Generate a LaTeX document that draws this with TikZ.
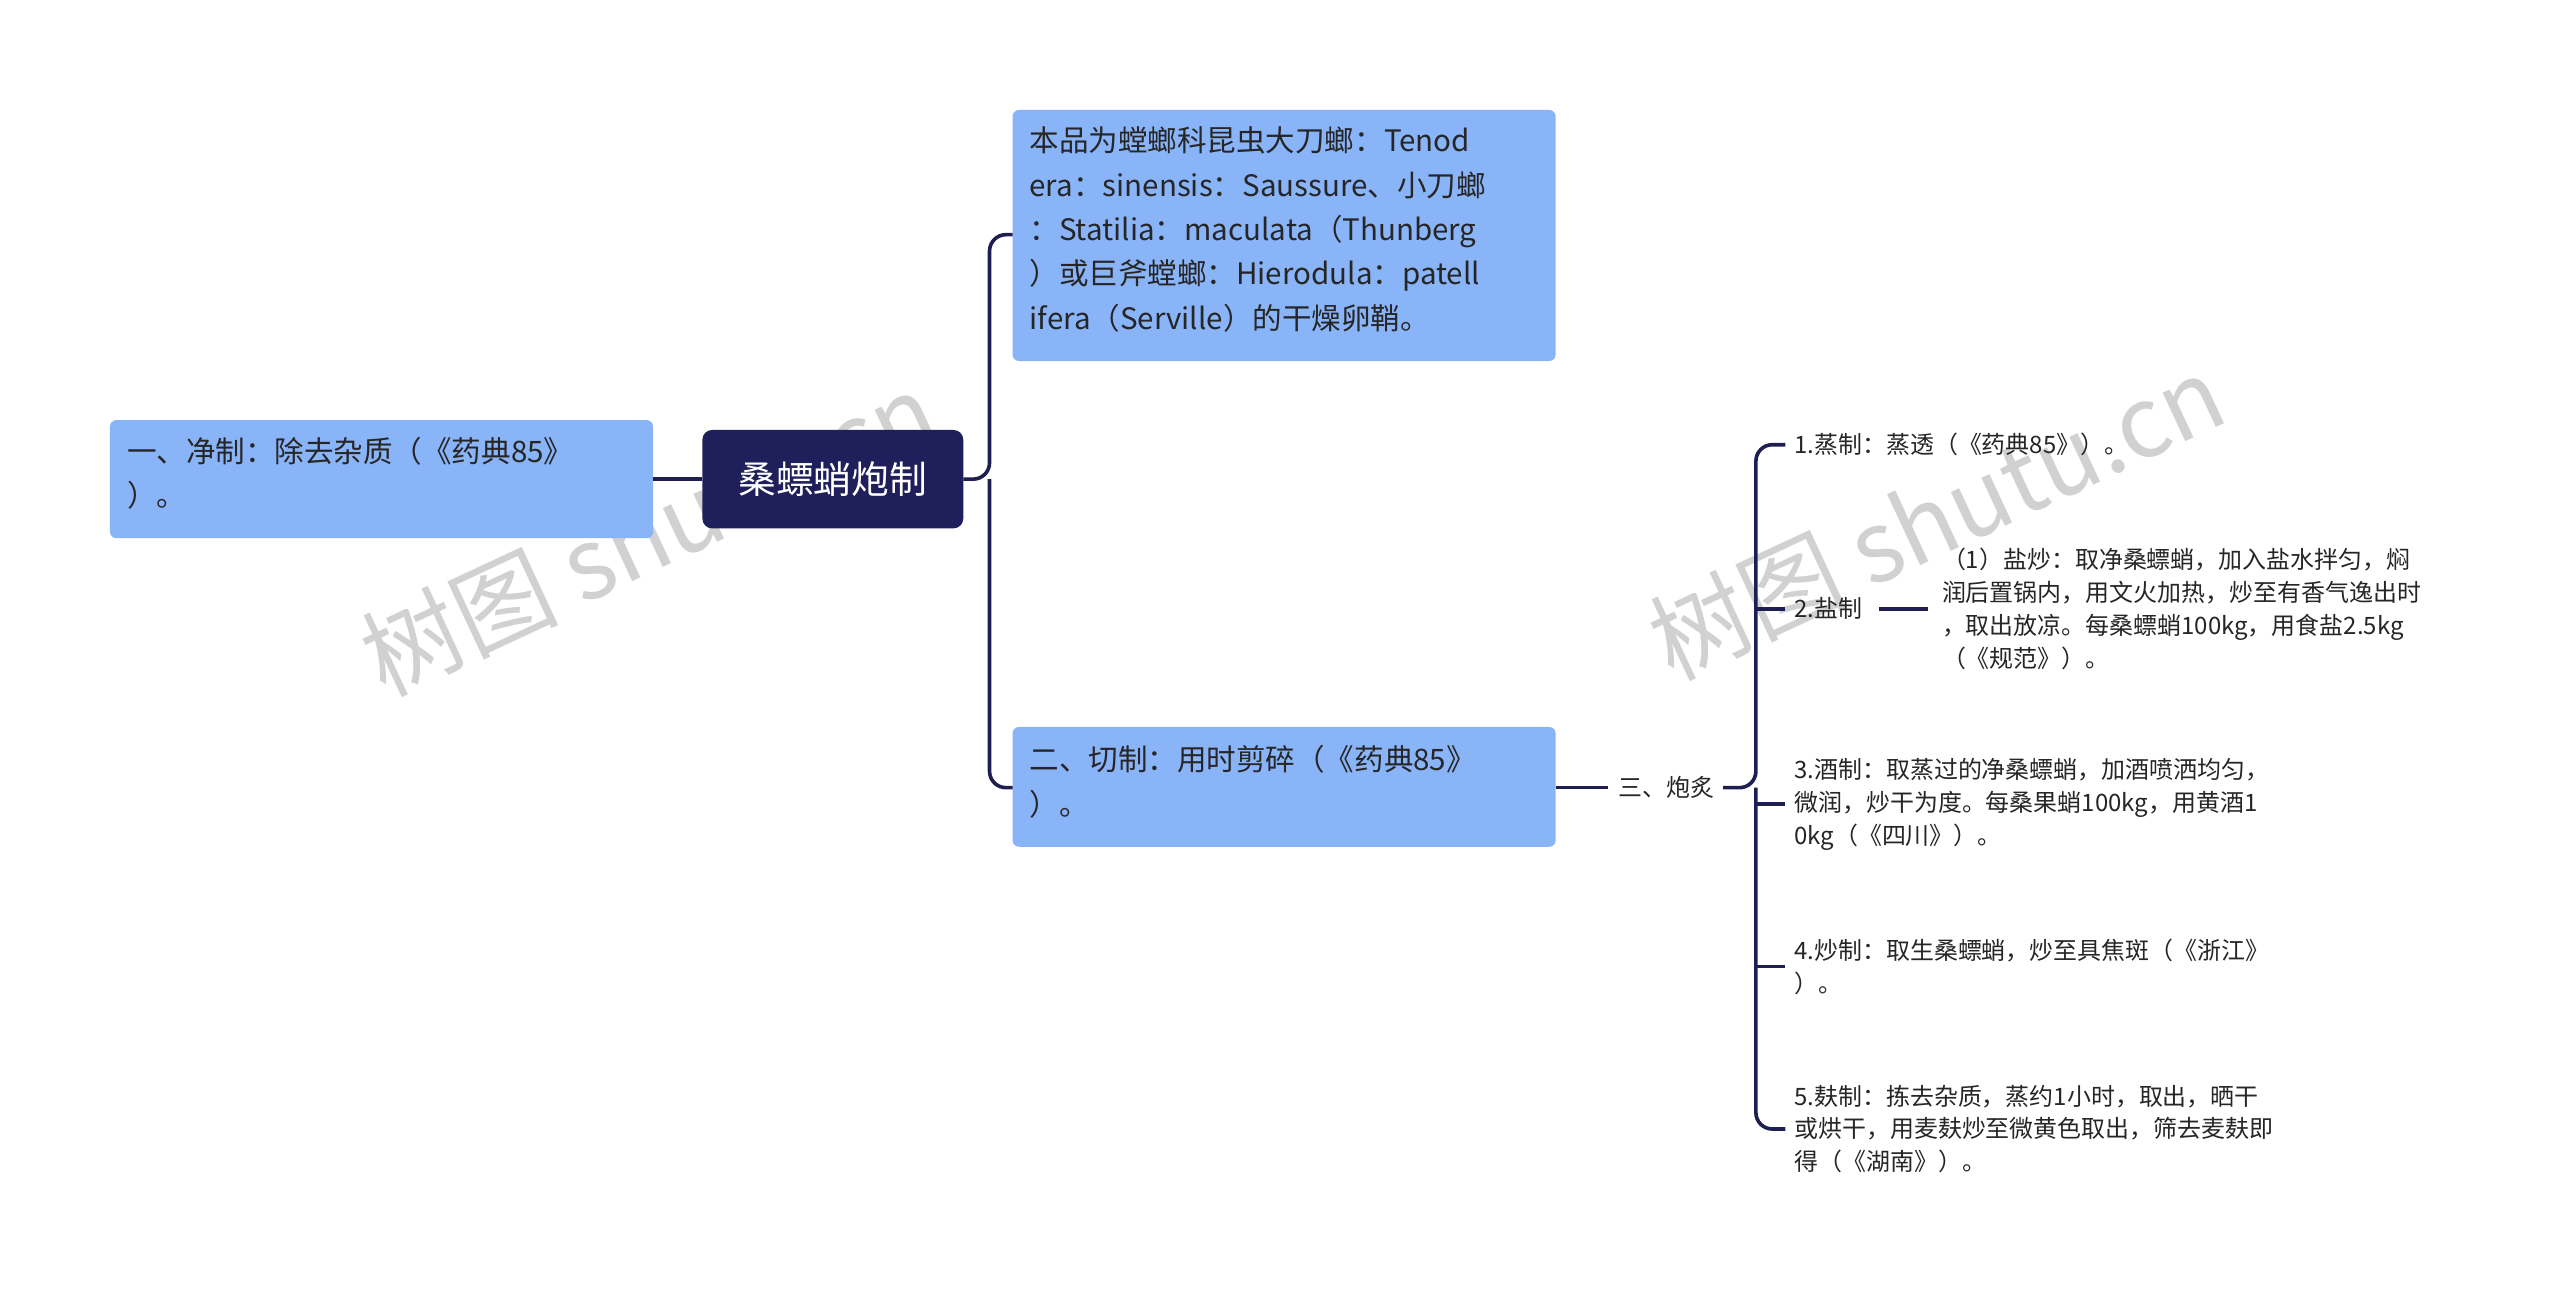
\documentclass[tikz,border=0pt]{standalone}
\usepackage{fontspec}
\setmainfont{Noto Sans CJK SC}
\begin{document}
\begin{tikzpicture}[x=0.5pt,y=-0.5pt,
 box/.style={fill=boxblue,rounded corners=2pt,inner sep=0pt},
 big/.style={font=\fontsize{9}{13.5}\selectfont,align=left,anchor=north west,inner sep=0pt,text=black!85},
 small/.style={font=\fontsize{7.3}{10}\selectfont,align=left,anchor=north west,inner sep=0pt,text=black!85},
 conn/.style={draw=linec,line width=1.1pt,rounded corners=5pt}]
\definecolor{boxblue}{HTML}{8AB4F8}
\definecolor{linec}{HTML}{1E1E50}
\definecolor{rootc}{HTML}{1F1F5C}
\useasboundingbox (0,0) rectangle (1560,790);
\fill[white] (0,0) rectangle (1560,790);
% watermarks
\node[rotate=25,text=black!18,font=\fontsize{30}{30}\selectfont] at (395,325) {树图 shutu.cn};
\node[rotate=25,text=black!18,font=\fontsize{30}{30}\selectfont] at (1180,315) {树图 shutu.cn};
% boxes
\fill[rootc,rounded corners=3pt] (428,262) rectangle (587,322);
\node[text=white,font=\fontsize{11.5}{12}\selectfont] (root) at (507.5,292) {桑螵蛸炮制};
\coordinate (rootL) at (428,292); \coordinate (rootR) at (587,292);
\fill[box] (67,256) rectangle (398,328);
\node[big] (left) at (77,266) {一、净制：除去杂质（《药典85》\\）。};
\coordinate (leftR) at (398,292);
\fill[box] (617,67) rectangle (948,220);
\node[big] (top) at (627,77) {本品为螳螂科昆虫大刀螂：Tenod\\era：sinensis：Saussure、小刀螂\\：Statilia：maculata（Thunberg\\）或巨斧螳螂：Hierodula：patell\\ifera（Serville）的干燥卵鞘。};
\coordinate (topL) at (617,143);
\fill[box] (617,443) rectangle (948,516);
\node[big] (cut) at (627,454) {二、切制：用时剪碎（《药典85》\\）。};
\coordinate (cutL) at (617,480); \coordinate (cutR) at (948,480);
\node[small,anchor=west] (pz) at (986,480) {三、炮炙};
\coordinate (pzR) at (1050,480);
% children
\node[small,anchor=west] (c1) at (1093,271) {1.蒸制：蒸透（《药典85》）。};
\node[small,anchor=west] (c2) at (1093,371) {2.盐制};
\node[small,anchor=west] (c2a) at (1183,371) {（1）盐炒：取净桑螵蛸，加入盐水拌匀，焖\\润后置锅内，用文火加热，炒至有香气逸出时\\，取出放凉。每桑螵蛸100kg，用食盐2.5kg\\（《规范》）。};
\node[small,anchor=west] (c3) at (1093,490) {3.酒制：取蒸过的净桑螵蛸，加酒喷洒均匀，\\微润，炒干为度。每桑果蛸100kg，用黄酒1\\0kg（《四川》）。};
\node[small,anchor=west] (c4) at (1093,589) {4.炒制：取生桑螵蛸，炒至具焦斑（《浙江》\\）。};
\node[small,anchor=west] (c5) at (1093,688) {5.麸制：拣去杂质，蒸约1小时，取出，晒干\\或烘干，用麦麸炒至微黄色取出，筛去麦麸即\\得（《湖南》）。};
% connectors
\draw[conn] (rootL) -- (leftR);
\draw[conn] (rootR) -- (603,292) |- (topL);
\draw[conn] (603,292) |- (cutL);
\draw[conn] (cutR) -- (980,480);
\draw[conn] (pzR) -- (1070,480) |- (1088,271);
\draw[conn] (1070,480) |- (1088,688);
\draw[conn] (1070,371) -- (1088,371);
\draw[conn] (1070,490) -- (1088,490);
\draw[conn] (1070,589) -- (1088,589);
\draw[conn] (1145,371) -- (1175,371);
\end{tikzpicture}
\end{document}
